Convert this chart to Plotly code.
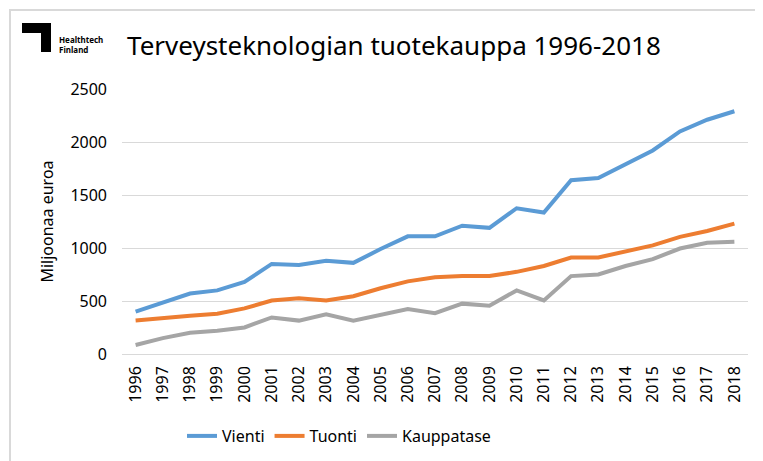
import plotly.graph_objects as go

years = [str(y) for y in range(1996, 2019)]
vienti = [400, 490, 570, 600, 680, 850, 840, 880, 860, 990, 1110, 1110, 1210, 1190,
          1375, 1335, 1640, 1660, 1790, 1920, 2100, 2210, 2290]
tuonti = [315, 340, 360, 380, 430, 505, 525, 505, 545, 620, 685, 725, 735, 735,
          775, 830, 910, 910, 970, 1025, 1105, 1160, 1230]
kauppatase = [85, 150, 200, 220, 250, 345, 315, 375, 315, 370, 425, 385, 475, 455,
              600, 505, 735, 750, 830, 895, 995, 1050, 1060]

OFF = 8  # browser default body margin
W, H = 763 - OFF, 461 - OFF
L, R, T, B = 122 - OFF, 748 - OFF, 89 - OFF, 354 - OFF
FONT = "Noto Sans"

def px(x):
    # x in reference screenshot pixels
    return (x - OFF - L) / (R - L)

def py(y):
    return (B - (y - OFF)) / (B - T)

fig = go.Figure()
for name, vals, col in [("Vienti", vienti, "#5B9BD5"),
                        ("Tuonti", tuonti, "#ED7D31"),
                        ("Kauppatase", kauppatase, "#A5A5A5")]:
    fig.add_trace(go.Scatter(x=years, y=vals, name=name, mode="lines",
                             line=dict(color=col, width=4)))

shapes = [
    dict(type="rect", xref="paper", yref="paper",
         x0=px(10), x1=px(790), y0=py(10), y1=py(490),
         line=dict(color="#D9D9D9", width=2), fillcolor="rgba(0,0,0,0)", layer="below"),
    dict(type="path", xref="paper", yref="paper",
         path=(f"M {px(22)} {py(23)} L {px(51)} {py(23)} L {px(51)} {py(52)} "
               f"L {px(41)} {py(52)} L {px(41)} {py(33)} L {px(22)} {py(33)} Z"),
         line=dict(width=0), fillcolor="#000000"),
]

annotations = [
    dict(text="<b>Healthtech<br>Finland</b>", xref="paper", yref="paper",
         x=px(57), y=py(44), align="left",
         xanchor="left", yanchor="middle", showarrow=False,
         font=dict(family=FONT, size=8, color="#000")),
]

fig.update_layout(
    width=W, height=H,
    margin=dict(l=L, r=W - R, t=T, b=H - B, autoexpand=False),
    paper_bgcolor="white", plot_bgcolor="white",
    font=dict(family=FONT, color="#000000", size=16),
    title=dict(text="Terveysteknologian tuotekauppa 1996-2018",
               xref="container", yref="container",
               x=(127 - OFF) / W, xanchor="left", y=1 - (46 - OFF) / H, yanchor="middle",
               font=dict(family=FONT, size=26, color="#000")),
    shapes=shapes,
    annotations=annotations,
    showlegend=True,
    legend=dict(orientation="h", x=px(182), xanchor="left", y=py(436), yanchor="middle",
                font=dict(family=FONT, size=16, color="#000"), bgcolor="rgba(0,0,0,0)"),
    xaxis=dict(type="category", tickangle=-90, showgrid=False, showline=False,
               zeroline=False, ticks="", tickfont=dict(size=16, color="#000"),
               range=[-0.5, 22.5], ticklabelstandoff=8, automargin=False),
    yaxis=dict(range=[0, 2500], dtick=500, showgrid=True, gridcolor="#D9D9D9",
               gridwidth=1, zeroline=True, zerolinecolor="#D9D9D9", zerolinewidth=1,
               showline=False, ticks="", tickfont=dict(size=16, color="#000"),
               ticklabelstandoff=14, automargin=False,
               title=dict(text="Miljoonaa euroa", font=dict(size=16, color="#000"),
                          standoff=12)),
)

fig.write_html("out.html")
